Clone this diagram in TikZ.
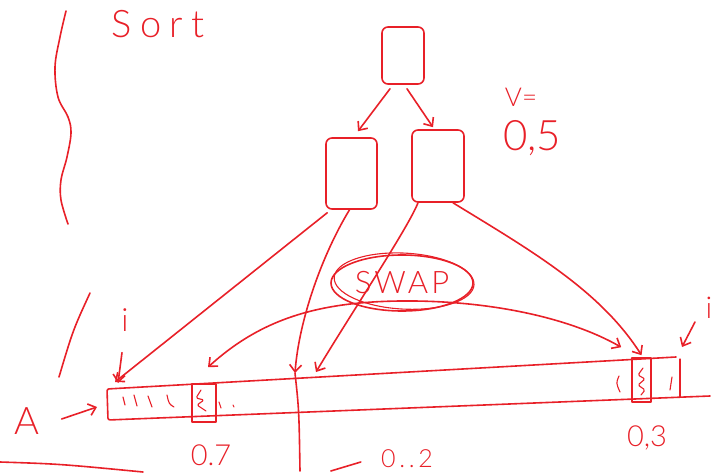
\documentclass[tikz,border=0pt]{standalone}
\usepackage{fontspec}
\newfontfamily\hand{Lato Light}
\usetikzlibrary{arrows.meta,shapes.geometric}
\definecolor{pen}{RGB}{232,32,40}
\tikzset{
  ink/.style={draw=pen, line width=1.6pt, line cap=round, line join=round},
  fine ink/.style={draw=pen, line width=1.1pt, line cap=round, line join=round},
  tip/.style={-{Straight Barb[length=7pt,width=12pt]}},
  twotips/.style={{Straight Barb[length=7pt,width=12pt]}-{Straight Barb[length=7pt,width=12pt]}},
  boxnode/.style={ink, rounded corners=6pt, inner sep=0pt},
  cellbox/.style={ink, inner sep=0pt},
  lbl/.style={text=pen, inner sep=0pt},
}
\newcommand{\handsz}[1]{\hand\fontsize{#1}{#1}\selectfont}
\begin{document}
\begin{tikzpicture}[x=1pt,y=-1pt]
\useasboundingbox (0,0) rectangle (715,473);

% margin squiggle and title
\draw[ink] plot[smooth, tension=0.6] coordinates
  {(66,11) (60,37) (55,67) (58,97) (68,117) (71,133) (67,157) (61,180) (61,200) (68,224)};
\node[lbl, font={\handsz{38pt}\addfontfeature{LetterSpace=22}}] (title) at (158,24) {Sort};

% recursion tree
\node[boxnode, minimum width=42pt, minimum height=57pt] (root) at (403,55.5) {};
\node[boxnode, minimum width=51pt, minimum height=71pt] (lkid) at (351.5,173.5) {};
\node[boxnode, minimum width=52pt, minimum height=72pt] (rkid) at (438,166) {};
\draw[ink,tip] ([xshift=-13pt,yshift=-4pt]root.south) -- ([xshift=6.5pt,yshift=6pt]lkid.north);
\draw[ink,tip] ([xshift=4pt,yshift=-4pt]root.south) -- ([xshift=-5pt,yshift=2pt]rkid.north);

% pivot value
\node[lbl, font=\handsz{26pt}] (vlbl) at (521,97) {V=};
\node[lbl, font=\handsz{42pt}] (vval) at (532,138) {0,5};

% the array A
\coordinate (aTL) at (107,389);
\coordinate (aBL) at (108,420);
\coordinate (aTR) at (676,357);
\coordinate (aBR) at (710,396);
\draw[ink, rounded corners=2pt] (aTR) -- (aTL) -- (aBL) -- (aBR);
\draw[fine ink] (680,359) -- (680,397);
\node[cellbox, minimum width=24pt, minimum height=38pt] (c1) at (204,403) {};
\node[cellbox, minimum width=19pt, minimum height=44pt] (c2) at (641.5,380) {};

% marks inside the array
\draw[fine ink] (123,397) -- (125,405);
\draw[fine ink] (134,395) -- (137,406);
\draw[fine ink] (148,396) -- (152,407);
\draw[fine ink] (167,395) .. controls (169,404) .. (174,407);
\draw[fine ink, rounded corners=1.5pt] (201,390) -- (196,398) -- (204,400) -- (197,405) -- (206,411);
\draw[fine ink] (219,402) -- (221,408);
\draw[fine ink] (233,405) -- (234,407);
\draw[fine ink, rounded corners=1.5pt] (643,368) -- (638,375) -- (645,379) -- (638,385) -- (645,390) -- (641,395);
\draw[fine ink] (619,376) .. controls (616,383) .. (620,392);
\draw[fine ink] (672,377) -- (670,390);

% labels around the array
\node[lbl, font=\handsz{38pt}] (A) at (27,421) {A};
\draw[ink,tip] ([xshift=22pt,yshift=2pt]A.east) -- ([xshift=-10pt,yshift=-18pt]aTL);
\node[lbl, font=\handsz{32pt}] (ilbl) at (125,320) {i};
\draw[ink,tip] ([xshift=-3pt,yshift=-21pt]ilbl.south) -- ([xshift=11pt,yshift=6pt]aTL);
\draw[ink] (90,293) .. controls (73,330) .. (59,377);
\node[lbl, font=\handsz{30pt}] (jlbl) at (709,308) {i};
\draw[ink,tip] ([xshift=-14pt,yshift=-14pt]jlbl.center) -- ([xshift=-27pt,yshift=-39pt]jlbl.center);
\node[lbl, font=\handsz{29pt}] (lo) at (211,455) {0.7};
\node[lbl, font=\handsz{29pt}] (hi) at (647,438) {0,3};
\node[lbl, font={\handsz{25pt}\addfontfeature{LetterSpace=15}}] (range) at (407,459) {0..2};
\draw[ink] ([xshift=-20pt,yshift=-3pt]range.west) -- ([xshift=-50pt,yshift=-12pt]range.west);
\draw[ink] (0,462) .. controls (60,464) .. (143,472);

% partition arrows from the subproblems down to the array
\coordinate (midtip) at (295,373);
\coordinate (drop) at (300,471);
\draw[ink,tip] ([xshift=2pt,yshift=-3pt]lkid.south west) -- ([xshift=8pt,yshift=7pt]aTL);
\draw[ink,tip] ([xshift=-2pt]lkid.south) .. controls (322,255) and (299,320) .. (midtip);
\draw[ink] (midtip) .. controls (299,410) .. (drop);
\draw[ink,tip] ([xshift=-20pt]rkid.south) .. controls (408,228) and (352,312) .. ([xshift=21pt,yshift=1pt]midtip);
\draw[ink,tip] ([xshift=15pt]rkid.south) .. controls (530,250) and (600,290) .. ([yshift=2pt]c2.north);

% swap of the two marked cells
\node[ink, ellipse, minimum width=142pt, minimum height=56pt, inner sep=0pt, text=pen,
      font={\handsz{31pt}\addfontfeature{LetterSpace=10}}] (swap) at (402,283) {SWAP};
\draw[fine ink, rotate around={-3:(swap.center)}] ([xshift=2pt,yshift=2pt]swap.center) ellipse [x radius=70pt, y radius=28pt];
\draw[ink,twotips] ([xshift=4pt,yshift=16pt]c1.north) .. controls (262,318) and (320,302) .. (400,301)
  .. controls (490,300) and (570,318) .. ([xshift=-10pt,yshift=10pt]c2.north west);
\end{tikzpicture}
\end{document}
